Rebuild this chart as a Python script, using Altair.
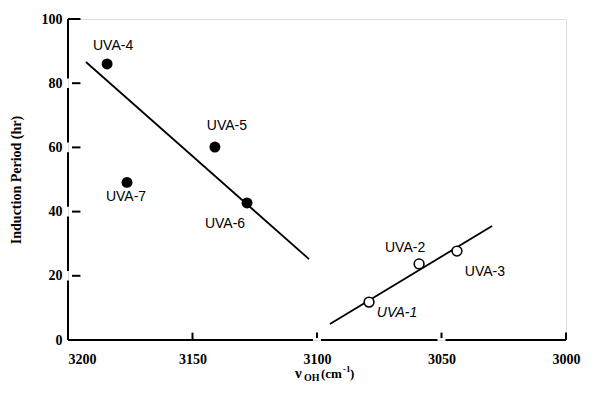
import altair as alt
import pandas as pd

# ---- data ----
filled_labels = ["UVA-4", "UVA-5", "UVA-7", "UVA-6"]
filled_x = [3184.3, 3141.0, 3176.3, 3128.1]
filled_y = [86.0, 60.1, 49.1, 42.7]

open_labels = ["UVA-1", "UVA-2", "UVA-3"]
open_x = [3079.1, 3059.0, 3043.8]
open_y = [11.8, 23.7, 27.7]

line1_x = [3192.8, 3103.2]
line1_y = [86.6, 25.2]
line2_x = [3094.8, 3029.7]
line2_y = [5.0, 35.5]

x_ticks = [3200, 3150, 3100, 3050, 3000]
y_ticks = [0, 20, 40, 60, 80, 100]
x_breaks = [3100, 3050]

# ---- style ----
label_offsets = {
    "UVA-4": (6, -18), "UVA-5": (12, -21), "UVA-7": (-1, 15), "UVA-6": (-22, 21),
    "UVA-1": (28, 11), "UVA-2": (-14, -16), "UVA-3": (28, 21),
}
SERIF = "Liberation Serif"
SANS = "Liberation Sans"

xscale = alt.Scale(domain=[3200, 3000], nice=False, zero=False)
yscale = alt.Scale(domain=[0, 100], nice=False, zero=False)

x_axis = alt.Axis(values=x_ticks, domain=False, ticks=False, grid=False, title=None,
                  labelFont=SERIF, labelFontWeight="bold", labelFontSize=14,
                  labelColor="black", labelPadding=12, format="d",
                  labelAlign={"condition": {"test": "datum.value === 3200", "value": "left"},
                              "value": "center"})
y_axis = alt.Axis(values=y_ticks, domain=False, ticks=False, grid=False, title=None,
                  labelFont=SERIF, labelFontWeight="bold", labelFontSize=14,
                  labelColor="black", labelPadding=6, format="d")

def X(field="x"):
    return alt.X(f"{field}:Q", scale=xscale, axis=x_axis)

def Y(field="y"):
    return alt.Y(f"{field}:Q", scale=yscale, axis=y_axis)

# axis frame: segments (two points each) built from tick arrays
pts = []
sid = [0]
def seg(x1, y1, x2, y2):
    pts.append({"seg": sid[0], "o": 0, "x": x1, "y": y1})
    pts.append({"seg": sid[0], "o": 1, "x": x2, "y": y2})
    sid[0] += 1

for i in range(len(y_ticks) - 1):
    a = y_ticks[i] + (1.5 if i > 0 else 0)
    b = y_ticks[i + 1] - (1.5 if i + 1 < len(y_ticks) - 1 else 0)
    seg(3200, a, 3200, b)
for t in y_ticks[1:]:
    seg(3198.4 if t < 100 else 3200, t, 3195.0, t)
xstops = [3200] + x_breaks + [3000]
for i in range(len(xstops) - 1):
    a = xstops[i] - (1.6 if i > 0 else 0)
    b = xstops[i + 1] + (1.6 if i + 1 < len(xstops) - 1 else 0)
    seg(a, 0, b, 0)
for t in x_ticks[1:]:
    seg(t, 0.6 if t in x_breaks else 0, t, 2.3)

frame = alt.Chart(pd.DataFrame(pts)).mark_line(color="black", strokeWidth=2, strokeCap="butt").encode(
    x=X("x"), y=Y("y"), detail="seg:N", order="o:Q")

l1 = pd.DataFrame({"x": line1_x, "y": line1_y})
l2 = pd.DataFrame({"x": line2_x, "y": line2_y})
lines = (alt.Chart(l1).mark_line(color="black", strokeWidth=1.8).encode(x=X(), y=Y())
         + alt.Chart(l2).mark_line(color="black", strokeWidth=1.8).encode(x=X(), y=Y()))

fdf = pd.DataFrame({"label": filled_labels, "x": filled_x, "y": filled_y})
odf = pd.DataFrame({"label": open_labels, "x": open_x, "y": open_y})

fpts = alt.Chart(fdf).mark_point(shape="circle", filled=True, color="black", size=120, opacity=1).encode(
    x=X(), y=Y())
opts = alt.Chart(odf).mark_point(shape="circle", filled=False, fill="white", fillOpacity=1,
                                 stroke="black", strokeWidth=1.6, size=95, opacity=1).encode(
    x=X(), y=Y())

texts = []
for df in (fdf, odf):
    for lab in df["label"]:
        dx, dy = label_offsets[lab]
        texts.append(
            alt.Chart(df).transform_filter(alt.datum.label == lab).mark_text(
                font=SANS, fontSize=14, color="black", align="center", baseline="middle",
                dx=dx, dy=dy, fontStyle="italic" if lab == "UVA-1" else "normal"
            ).encode(x=X(), y=Y(), text="label:N"))

# axis titles as text (pixel offsets relative to plot area)
one = pd.DataFrame({"a": [0]})
def txt(s, x, y, size, angle=0, align="left", baseline="alphabetic"):
    return alt.Chart(one).mark_text(text=s, font=SERIF, fontWeight="bold", fontSize=size,
                                    color="black", align=align, baseline=baseline,
                                    angle=angle).encode(x=alt.value(x), y=alt.value(y))

titles = [
    txt("Induction Period (hr)", -51, 161, 14, angle=270, align="center", baseline="middle"),
    txt("ν", 227, 359, 15),
    txt("OH", 236, 362, 10),
    txt("(cm", 253, 359, 13),
    txt("-1", 275, 353, 9),
    txt(")", 282, 359, 13),
]

chart = alt.layer(frame, lines, fpts, opts, *texts, *titles).properties(
    width=498, height=321,
    autosize=alt.AutoSizeParams(type="none"),
    padding={"left": 60, "top": 11, "right": 25, "bottom": 49},
).configure_view(stroke=None).configure(background="white")

chart.save("out.html", embed_options={"renderer": "svg", "actions": False})
